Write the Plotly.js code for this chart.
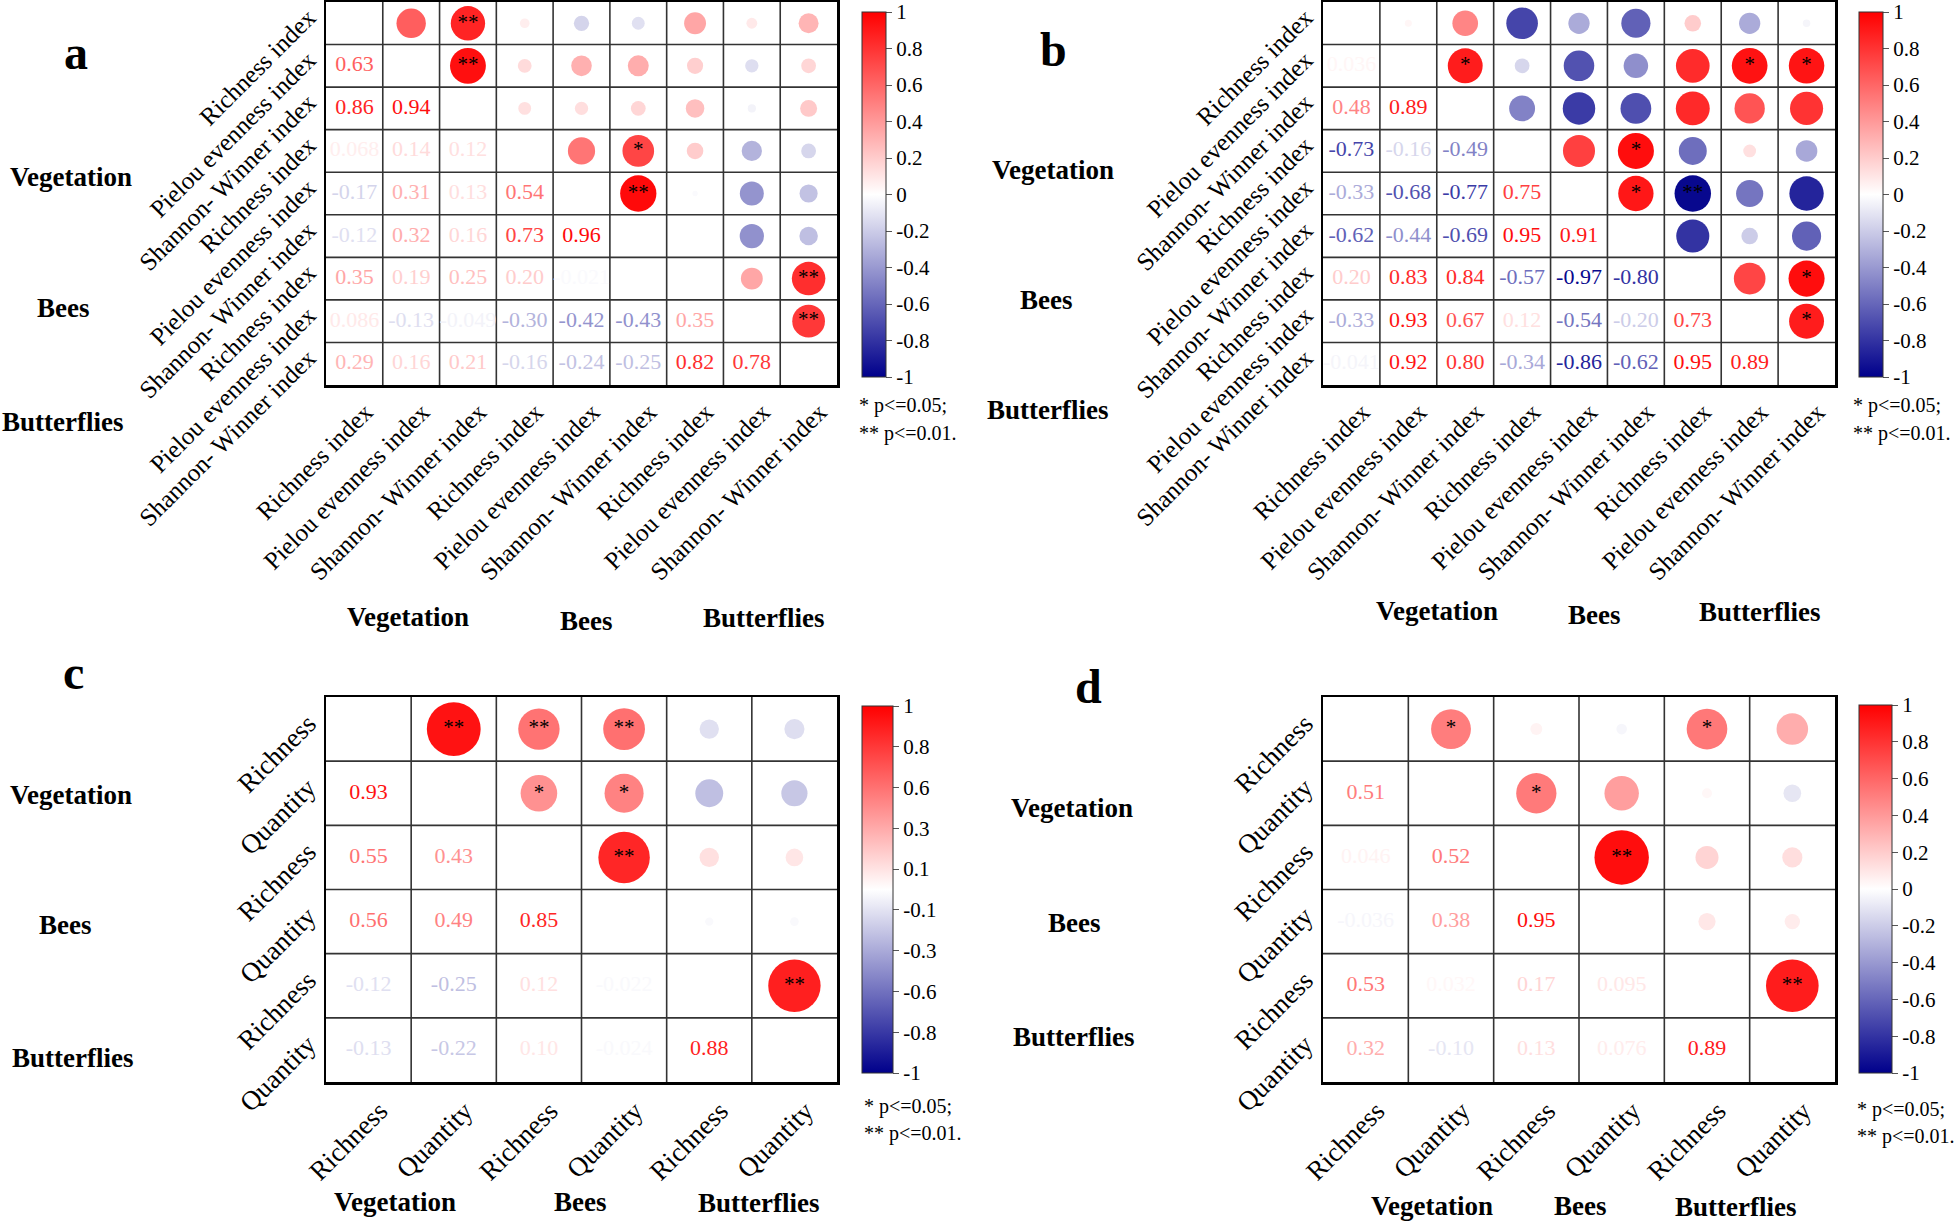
<!DOCTYPE html>
<html>
<head>
<meta charset="utf-8">
<script src="https://cdn.plot.ly/plotly-3.0.1.min.js"></script>
<style>html,body{margin:0;padding:0;background:#fff;}#chart{width:1959px;height:1222px;}</style>
</head>
<body>
<div id="chart"></div>
<script>
// ---------------- DATA ----------------
const indexLabels = ['Richness index', 'Pielou evenness index', 'Shannon- Winner index',
                     'Richness index', 'Pielou evenness index', 'Shannon- Winner index',
                     'Richness index', 'Pielou evenness index', 'Shannon- Winner index'];
const rqLabels = ['Richness', 'Quantity', 'Richness', 'Quantity', 'Richness', 'Quantity'];
const groupNames = ['Vegetation', 'Bees', 'Butterflies'];

// lower-triangular correlation rows (row i has i values, columns 1..i)
const aCorr = [
  [],
  [0.63],
  [0.86, 0.94],
  [0.068, 0.14, 0.12],
  [-0.17, 0.31, 0.13, 0.54],
  [-0.12, 0.32, 0.16, 0.73, 0.96],
  [0.35, 0.19, 0.25, 0.20, -0.021, null],
  [0.086, -0.13, -0.049, -0.30, -0.42, -0.43, 0.35],
  [0.29, 0.16, 0.21, -0.16, -0.24, -0.25, 0.82, 0.78]
];
const aStars = [
  [], [''], ['**', '**'], ['', '', ''], ['', '', '', ''],
  ['', '', '', '*', '**'], ['', '', '', '', '', ''],
  ['', '', '', '', '', '', ''], ['', '', '', '', '', '', '**', '**']
];

const bCorr = [
  [],
  [0.036],
  [0.48, 0.89],
  [-0.73, -0.16, -0.49],
  [-0.33, -0.68, -0.77, 0.75],
  [-0.62, -0.44, -0.69, 0.95, 0.91],
  [0.20, 0.83, 0.84, -0.57, -0.97, -0.80],
  [-0.33, 0.93, 0.67, 0.12, -0.54, -0.20, 0.73],
  [-0.041, 0.92, 0.80, -0.34, -0.86, -0.62, 0.95, 0.89]
];
const bStars = [
  [], [''], ['', '*'], ['', '', ''], ['', '', '', ''],
  ['', '', '', '*', '*'], ['', '', '', '', '**', ''],
  ['', '*', '', '', '', '', ''], ['', '*', '', '', '', '', '*', '*']
];

const cCorr = [
  [],
  [0.93],
  [0.55, 0.43],
  [0.56, 0.49, 0.85],
  [-0.12, -0.25, 0.12, -0.022],
  [-0.13, -0.22, 0.10, -0.024, 0.88]
];
const cStars = [
  [], ['**'], ['**', '*'], ['**', '*', '**'], ['', '', '', ''], ['', '', '', '', '**']
];

const dCorr = [
  [],
  [0.51],
  [0.046, 0.52],
  [-0.036, 0.38, 0.95],
  [0.53, 0.032, 0.17, 0.095],
  [0.32, -0.10, 0.13, 0.076, 0.89]
];
const dStars = [
  [], ['*'], ['', '*'], ['', '', '**'], ['*', '', '', ''], ['', '', '', '', '**']
];

const barTickVals = [1, 0.8, 0.6, 0.4, 0.2, 0, -0.2, -0.4, -0.6, -0.8, -1];
const barTickText = ['1', '0.8', '0.6', '0.4', '0.2', '0', '-0.2', '-0.4', '-0.6', '-0.8', '-1'];
const cBarTickVals = [1, 0.778, 0.556, 0.333, 0.111, -0.111, -0.333, -0.556, -0.778, -1];
const cBarTickText = ['1', '0.8', '0.6', '0.3', '0.1', '-0.1', '-0.3', '-0.6', '-0.8', '-1'];
const pNote = ['* p<=0.05;', '** p<=0.01.'];

// ---------------- STYLE / LAYOUT ----------------
const W = 1959, H = 1222;
const FONT = 'Liberation Serif, Times New Roman, serif';
const colorscale = [[0, 'rgb(0,0,139)'], [0.5, 'rgb(255,255,255)'], [1, 'rgb(255,0,0)']];

function colorFor(r) {
  if (r >= 0) {
    const v = Math.round(255 * (1 - r));
    return 'rgb(255,' + v + ',' + v + ')';
  }
  const t = -r;
  const rg = Math.round(255 * (1 - t));
  const b = Math.round(255 + (139 - 255) * t);
  return 'rgb(' + rg + ',' + rg + ',' + b + ')';
}
function fmt(r) {
  return Math.abs(r) >= 0.1 ? r.toFixed(2) : r.toPrecision(2);
}

const panels = [
  {letter: 'a', corr: aCorr, stars: aStars, labels: indexLabels, box: [326, 2, 837, 385],
   bar: {x: 862, th: 24, y0: 12, y1: 377, vals: barTickVals, text: barTickText},
   note: [857, 405], noteGap: 28, letterPos: [76, 53],
   left: [[71, 177], [63, 308], [62, 422]], bottom: [[408, 617], [586, 621], [763, 618]], tickSize: 25},
  {letter: 'b', corr: bCorr, stars: bStars, labels: indexLabels, box: [1323, 2, 1835, 385],
   bar: {x: 1859, th: 24, y0: 12, y1: 377, vals: barTickVals, text: barTickText},
   note: [1851, 405], noteGap: 28, letterPos: [1053, 50],
   left: [[1053, 170], [1046, 300], [1047, 410]], bottom: [[1437, 611], [1594, 615], [1759, 612]], tickSize: 25},
  {letter: 'c', corr: cCorr, stars: cStars, labels: rqLabels, box: [326, 697, 837, 1082],
   bar: {x: 862, th: 31, y0: 706, y1: 1073, vals: cBarTickVals, text: cBarTickText},
   note: [862, 1106], noteGap: 27, letterPos: [73, 672],
   left: [[71, 795], [65, 925], [72, 1058]], bottom: [[395, 1202], [580, 1202], [758, 1203]], tickSize: 27},
  {letter: 'd', corr: dCorr, stars: dStars, labels: rqLabels, box: [1323, 697, 1835, 1082],
   bar: {x: 1859, th: 33, y0: 705, y1: 1073, vals: barTickVals, text: barTickText},
   note: [1855, 1109], noteGap: 27, letterPos: [1088, 686],
   left: [[1072, 808], [1074, 923], [1073, 1037]], bottom: [[1432, 1206], [1580, 1206], [1735, 1207]], tickSize: 27}
];

const traces = [];
const layout = {
  width: W, height: H,
  margin: {l: 0, r: 0, t: 0, b: 0},
  paper_bgcolor: '#fff', plot_bgcolor: '#fff',
  showlegend: false,
  font: {family: FONT, color: '#000'},
  annotations: [], shapes: []
};

panels.forEach((p, k) => {
  const n = p.corr.length;
  const sfx = k === 0 ? '' : String(k + 1);
  const xa = 'x' + sfx, ya = 'y' + sfx;
  const [x0, y0, x1, y1] = p.box;
  const cellH = (y1 - y0) / n;
  const dMax = 0.87 * cellH;

  const cx = [], cy = [], cval = [], csize = [];
  const tx = [], ty = [], ttext = [], tcol = [];
  const sx = [], sy = [], stext = [];
  for (let i = 0; i < n; i++) {
    for (let j = 0; j < i; j++) {
      const r = p.corr[i][j];
      if (r === null || r === undefined) continue;
      tx.push(j + 1); ty.push(i + 1); ttext.push(fmt(r)); tcol.push(colorFor(r));
      cx.push(i + 1); cy.push(j + 1); cval.push(r); csize.push(dMax * Math.sqrt(Math.abs(r)));
      const st = p.stars[i][j];
      if (st) { sx.push(i + 1); sy.push(j + 1); stext.push(st); }
    }
  }
  const b = p.bar;
  traces.push({
    type: 'scatter', mode: 'markers', x: cx, y: cy, xaxis: xa, yaxis: ya, hoverinfo: 'skip',
    marker: {
      size: csize, color: cval, colorscale: colorscale, cmin: -1, cmax: 1, opacity: 1,
      line: {width: 0},
      showscale: true,
      colorbar: {
        x: b.x / W, xanchor: 'left', xpad: 0, ypad: 0,
        y: 1 - ((b.y0 + b.y1) / 2) / H, yanchor: 'middle',
        lenmode: 'pixels', len: b.y1 - b.y0,
        thicknessmode: 'pixels', thickness: b.th,
        outlinewidth: 1, outlinecolor: '#333',
        tickmode: 'array', tickvals: b.vals, ticktext: b.text,
        ticks: 'outside', ticklen: 6, tickwidth: 1, tickcolor: '#555',
        ticklabeloverflow: 'allow',
        tickfont: {family: FONT, size: 21, color: '#000'}
      }
    }
  });
  traces.push({
    type: 'scatter', mode: 'text', x: tx, y: ty, text: ttext, xaxis: xa, yaxis: ya, hoverinfo: 'skip',
    textposition: 'middle center', textfont: {family: FONT, size: 22, color: tcol}
  });
  traces.push({
    type: 'scatter', mode: 'text', x: sx, y: sy, text: stext, xaxis: xa, yaxis: ya, hoverinfo: 'skip',
    textposition: 'middle center', textfont: {family: FONT, size: 21, color: '#000'}
  });

  const ticks = p.labels.slice(0, n).map((_, i) => i + 1);
  const common = {
    showgrid: false, zeroline: false, showline: true, mirror: true, linecolor: '#000', linewidth: 2.5,
    ticks: '', tickangle: -45, tickmode: 'array', tickvals: ticks, ticktext: p.labels.slice(0, n),
    tickfont: {family: FONT, size: p.tickSize, color: '#000'}, automargin: false, fixedrange: true
  };
  layout['xaxis' + sfx] = Object.assign({}, common, {
    domain: [x0 / W, x1 / W], range: [0.5, n + 0.5], anchor: ya, side: 'bottom',
    ticklabelshift: 11
  });
  layout['yaxis' + sfx] = Object.assign({}, common, {
    domain: [1 - y1 / H, 1 - y0 / H], range: [n + 0.5, 0.5], anchor: xa, side: 'left',
    ticklabelstandoff: 10, ticklabelshift: 9
  });
  for (let g = 1; g < n; g++) {
    layout.shapes.push({type: 'line', xref: xa, yref: ya, x0: g + 0.5, x1: g + 0.5, y0: 0.5, y1: n + 0.5,
      line: {color: '#333', width: 1.6}, layer: 'below'});
    layout.shapes.push({type: 'line', xref: xa, yref: ya, x0: 0.5, x1: n + 0.5, y0: g + 0.5, y1: g + 0.5,
      line: {color: '#333', width: 1.6}, layer: 'below'});
  }

  const ann = layout.annotations;
  ann.push({xref: 'paper', yref: 'paper', x: p.letterPos[0] / W, y: 1 - p.letterPos[1] / H,
    xanchor: 'center', yanchor: 'middle', showarrow: false, text: '<b>' + p.letter + '</b>',
    font: {family: FONT, size: 48, color: '#000'}});
  groupNames.forEach((g, gi) => {
    ann.push({xref: 'paper', yref: 'paper', x: p.left[gi][0] / W, y: 1 - p.left[gi][1] / H,
      xanchor: 'center', yanchor: 'middle', showarrow: false, text: '<b>' + g + '</b>',
      font: {family: FONT, size: 27, color: '#000'}});
    ann.push({xref: 'paper', yref: 'paper', x: p.bottom[gi][0] / W, y: 1 - p.bottom[gi][1] / H,
      xanchor: 'center', yanchor: 'middle', showarrow: false, text: '<b>' + g + '</b>',
      font: {family: FONT, size: 27, color: '#000'}});
  });
  pNote.forEach((t, ti) => {
    ann.push({xref: 'paper', yref: 'paper', x: p.note[0] / W, y: 1 - (p.note[1] + ti * p.noteGap) / H,
      xanchor: 'left', yanchor: 'middle', showarrow: false, text: t,
      font: {family: FONT, size: 20, color: '#000'}});
  });
});

Plotly.newPlot('chart', traces, layout, {displayModeBar: false, staticPlot: true});
</script>
</body>
</html>
